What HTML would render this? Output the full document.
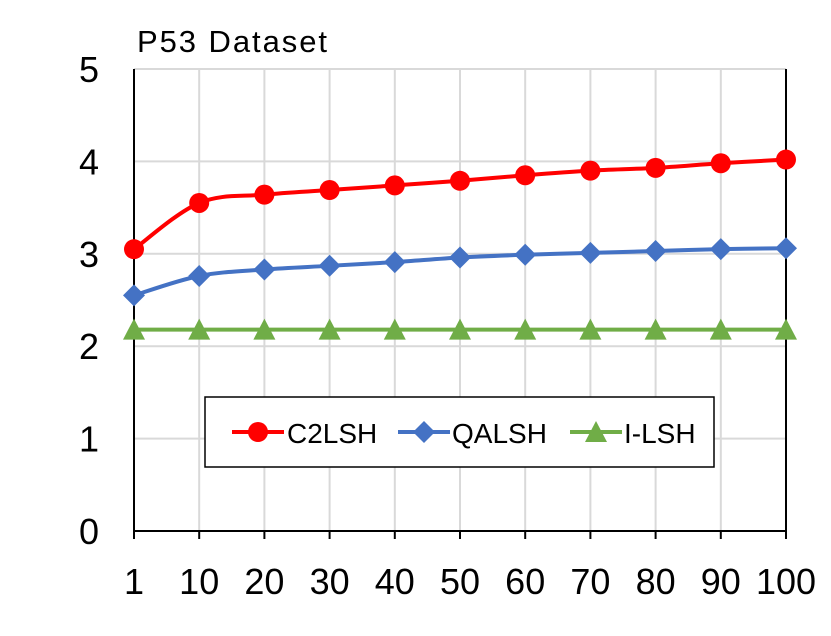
<!DOCTYPE html>
<html><head><meta charset="utf-8"><style>
html,body{margin:0;padding:0;background:#fff;}
svg text{font-family:"Liberation Sans",Arial,sans-serif;}
</style></head><body>
<svg id="chart" width="831" height="631" xmlns="http://www.w3.org/2000/svg">
<g id="grid"></g>
<g id="axes"></g>
<g id="series"></g>
<text x="137" y="52" font-size="31" textLength="190">P53 Dataset</text>
<g>
<rect x="205" y="397" width="509" height="70" fill="#fff" stroke="#000" stroke-width="1.5"/>
<g>
<line x1="232" y1="432" x2="284" y2="432" stroke="#ff0000" stroke-width="4"/>
<circle cx="258" cy="432" r="10" fill="#ff0000"/>
<text x="287" y="443" font-size="28">C2LSH</text></g>
<g>
<line x1="398" y1="432" x2="450" y2="432" stroke="#4472c4" stroke-width="4"/>
<path d="M424 421 L435 432 L424 443 L413 432 Z" fill="#4472c4"/>
<text x="452" y="443" font-size="28">QALSH</text></g>
<g>
<line x1="570" y1="432" x2="622" y2="432" stroke="#70ad47" stroke-width="4"/>
<path d="M596 421 L607 442 L585 442 Z" fill="#70ad47"/>
<text x="624" y="443" font-size="28">I-LSH</text></g>
</g>
</svg>
<script>
const categories=["1","10","20","30","40","50","60","70","80","90","100"];
const c2lsh=[3.05,3.55,3.64,3.69,3.74,3.79,3.85,3.90,3.93,3.98,4.02];
const qalsh=[2.55,2.76,2.83,2.87,2.91,2.96,2.99,3.01,3.03,3.05,3.06];
const ilsh=[2.18,2.18,2.18,2.18,2.18,2.18,2.18,2.18,2.18,2.18,2.18];
const yTicks=[0,1,2,3,4,5];
const L=134,R=786,T=69,B=531,YMAX=5;
const NS="http://www.w3.org/2000/svg";
function xS(i){return L+(R-L)*i/(categories.length-1);}
function yS(v){return B-(B-T)*v/YMAX;}
function mk(tag,attrs,parent){const e=document.createElementNS(NS,tag);for(const k in attrs)e.setAttribute(k,attrs[k]);parent.appendChild(e);return e;}
const grid=document.getElementById('grid'),axes=document.getElementById('axes'),ser=document.getElementById('series');
yTicks.forEach(v=>{
  if(v>0){const g=mk('line',{x1:L,x2:R,y1:yS(v),y2:yS(v),stroke:'#d9d9d9','stroke-width':2},grid);
  
  }
  const t=mk('text',{x:99,y:yS(v)+13,'font-size':36,'text-anchor':'end'},axes);t.textContent=v;
  
  
});
categories.forEach((c,i)=>{
  if(i>0&&i<categories.length-1){const g=mk('line',{x1:xS(i),x2:xS(i),y1:T,y2:B,stroke:'#d9d9d9','stroke-width':2},grid);
  
  }
  const tk=mk('line',{x1:xS(i),x2:xS(i),y1:B,y2:B+8,stroke:'#000','stroke-width':2},axes);
  
  
  const t=mk('text',{x:xS(i),y:B+63,'font-size':36,'text-anchor':'middle'},axes);t.textContent=c;
  
  
});
[[L,T,L,B],[R,T,R,B],[L,B,R,B]].forEach(a=>{const l=mk('line',{x1:a[0],y1:a[1],x2:a[2],y2:a[3],stroke:'#000','stroke-width':2},axes);
  
  });
function smooth(pts){let d=`M${pts[0][0]},${pts[0][1]}`;const t=0.17;
  for(let i=0;i<pts.length-1;i++){const p0=pts[i-1]||pts[i],p1=pts[i],p2=pts[i+1],p3=pts[i+2]||p2;
    d+=` C${p1[0]+(p2[0]-p0[0])*t},${p1[1]+(p2[1]-p0[1])*t} ${p2[0]-(p3[0]-p1[0])*t},${p2[1]-(p3[1]-p1[1])*t} ${p2[0]},${p2[1]}`;}
  return d;}
function draw(vals,color,shape,name){
  const pts=vals.map((v,i)=>[xS(i),yS(v)]);
  const p=mk('path',{d:smooth(pts),fill:'none',stroke:color,'stroke-width':4},ser);
  
  
  pts.forEach(([x,y])=>{let m;
    if(shape==='c')m=mk('circle',{cx:x,cy:y,r:10,fill:color},ser);
    else if(shape==='d')m=mk('path',{d:`M${x} ${y-11} L${x+11} ${y} L${x} ${y+11} L${x-11} ${y} Z`,fill:color},ser);
    else m=mk('path',{d:`M${x} ${y-11} L${x+11} ${y+10} L${x-11} ${y+10} Z`,fill:color},ser);
    
    });
}
draw(ilsh,'#70ad47','t','ilsh');
draw(qalsh,'#4472c4','d','qalsh');
draw(c2lsh,'#ff0000','c','c2lsh');
</script>
</body></html>
